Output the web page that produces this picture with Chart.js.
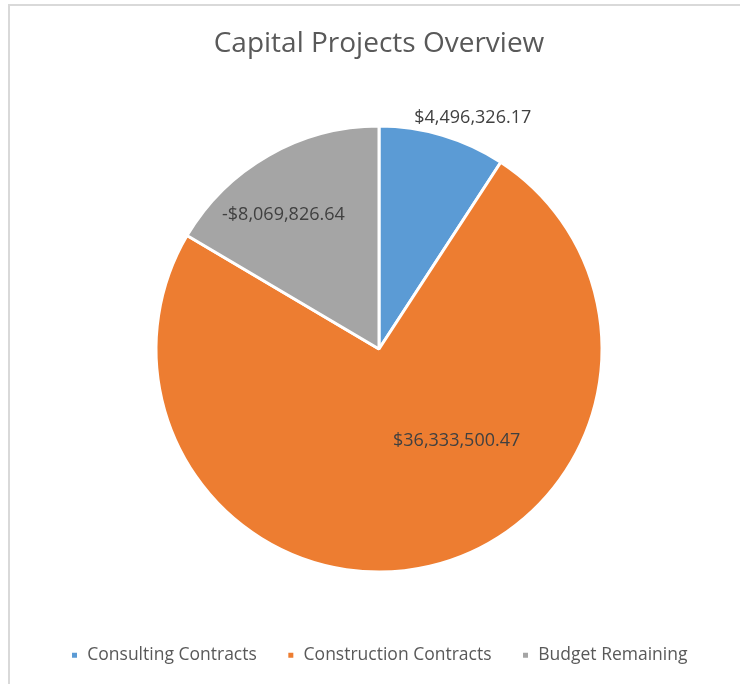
<!DOCTYPE html>
<html>
<head>
<meta charset="utf-8">
<title>Capital Projects Overview</title>
<script src="https://cdn.jsdelivr.net/npm/chart.js@4/dist/chart.umd.min.js"></script>
<style>
  html, body { margin: 0; padding: 0; background: #fff; overflow: hidden; }
  .frame {
    position: absolute; left: 8px; top: 4px; width: 760px; height: 700px;
    border-top: 2px solid #d9d9d9; border-left: 2px solid #d9d9d9;
  }
  .wrap { position: absolute; left: 0; top: 0; width: 740px; height: 684px; }
</style>
</head>
<body>
<div class="frame"></div>
<div class="wrap"><canvas id="chart-pie"></canvas></div>
<script>
// Chart data
const categories = ['Consulting Contracts', 'Construction Contracts', 'Budget Remaining'];
const amounts = [4496326.17, 36333500.47, -8069826.64];
const sliceColors = ['#5B9BD5', '#ED7D31', '#A5A5A5'];

const fontFamily = "'Open Sans', 'Noto Sans', sans-serif";

function formatMoney(v) {
  const s = Math.abs(v).toLocaleString('en-US', { minimumFractionDigits: 2, maximumFractionDigits: 2 });
  return (v < 0 ? '-$' : '$') + s;
}

// Value labels drawn on/around each arc (radial factor + angle nudge in degrees)
const sliceLabels = {
  id: 'sliceLabels',
  afterDatasetsDraw(chart, args, opts) {
    const ctx = chart.ctx;
    const meta = chart.getDatasetMeta(0);
    const values = chart.data.datasets[0].data;
    ctx.save();
    ctx.font = opts.font;
    ctx.fillStyle = opts.color;
    ctx.textAlign = 'center';
    ctx.textBaseline = 'middle';
    meta.data.forEach((arc, i) => {
      const p = arc.getProps(['x', 'y', 'startAngle', 'endAngle', 'outerRadius'], true);
      const place = opts.place[i] || { r: 0.6, da: 0 };
      const a = (p.startAngle + p.endAngle) / 2 + place.da * Math.PI / 180;
      const r = p.outerRadius * place.r;
      ctx.fillText(formatMoney(values[i]), p.x + Math.cos(a) * r, p.y + Math.sin(a) * r);
    });
    ctx.restore();
  }
};

const ctxPie = document.getElementById('chart-pie').getContext('2d');
new Chart(ctxPie, {
  type: 'pie',
  data: {
    labels: categories,
    datasets: [{
      data: amounts,
      backgroundColor: sliceColors,
      borderColor: '#ffffff',
      borderWidth: 3,
      hoverOffset: 0,
      radius: 223
    }]
  },
  options: {
    responsive: true,
    maintainAspectRatio: false,
    animation: false,
    layout: { padding: { left: 18, right: 0, top: 0, bottom: 10 } },
    plugins: {
      title: {
        display: true,
        text: 'Capital Projects Overview',
        color: '#595959',
        font: { family: fontFamily, size: 28, weight: 'normal' },
        padding: { top: 27, bottom: 21 }
      },
      legend: {
        position: 'bottom',
        labels: {
          color: '#595959',
          font: { family: fontFamily, size: 17.5 },
          boxWidth: 8,
          boxHeight: 8,
          padding: 30
        }
      },
      tooltip: { enabled: false },
      sliceLabels: {
        font: '18px ' + fontFamily,
        color: '#404040',
        place: [
          { r: 1.12, da: 5.5 },
          { r: 0.54, da: -27 },
          { r: 0.74, da: -5.7 }
        ]
      }
    }
  },
  plugins: [sliceLabels]
});
</script>
</body>
</html>
